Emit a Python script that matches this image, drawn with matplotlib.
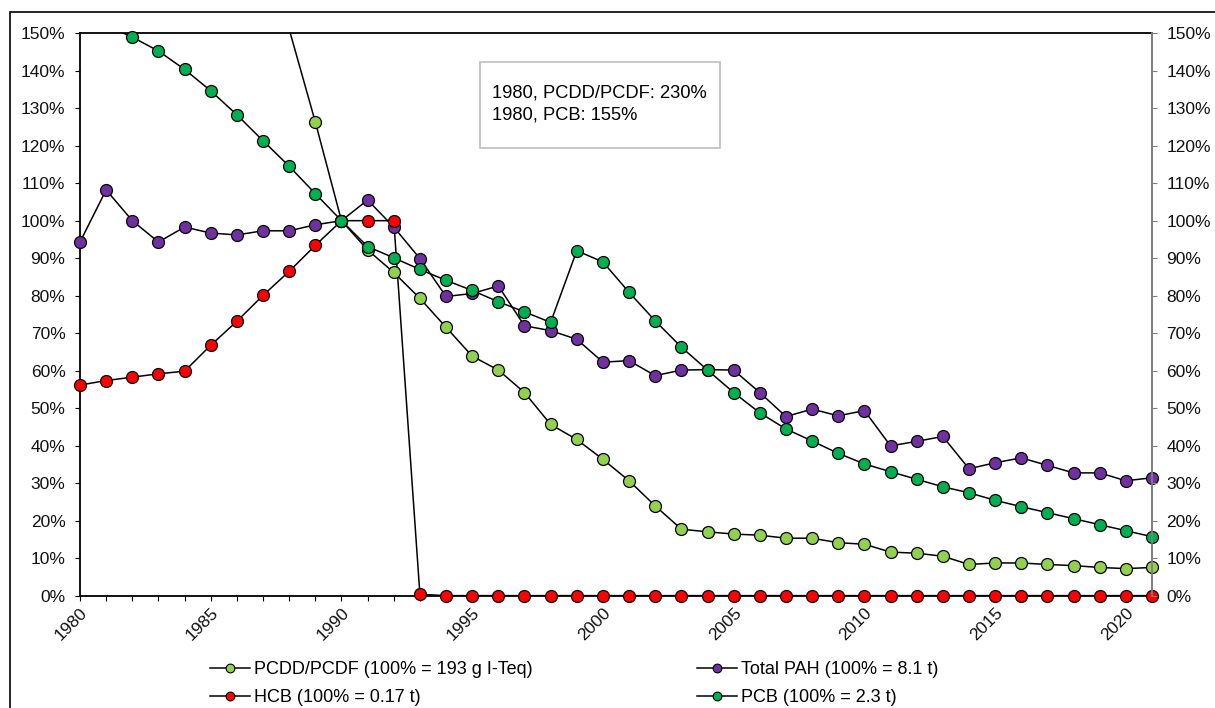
import numpy as np
import matplotlib
matplotlib.use("Agg")
import matplotlib.pyplot as plt
import matplotlib.ticker as ticker
from matplotlib.lines import Line2D
from matplotlib.patches import Rectangle

plt.rcParams["font.family"] = ["Liberation Sans", "DejaVu Sans"]

nan = np.nan
years = np.arange(1980, 2022)

# values in % of 1990 level
pcdd = [230, nan, nan, nan, nan, nan, nan, nan, 151, 126.3,
        100, 92.2, 86.2, 79.3, 71.6, 63.9, 60.2, 54.2, 45.7, 41.7,
        36.4, 30.7, 24.0, 17.8, 17.1, 16.5, 16.2, 15.4, 15.4, 14.2,
        13.8, 11.7, 11.4, 10.6, 8.4, 8.8, 8.8, 8.4, 8.1, 7.6,
        7.3, 7.6]
pah = [94.3, 108.2, 100, 94.3, 98.3, 96.7, 96.2, 97.3, 97.3, 98.9,
       100, 105.5, 98.3, 89.9, 79.8, 80.6, 82.6, 72.0, 70.7, 68.4,
       62.3, 62.7, 58.7, 60.2, 60.3, 60.2, 54.2, 47.8, 49.8, 48.0,
       49.4, 40.0, 41.2, 42.5, 33.9, 35.5, 36.8, 34.8, 32.8, 32.8,
       30.7, 31.5]
hcb = [56.2, 57.4, 58.3, 59.2, 59.9, 66.8, 73.2, 80.1, 86.5, 93.4,
       100, 100, 100, 0.45] + [0.1] * 28
pcb = [155, 152, 148.9, 145.2, 140.3, 134.6, 128.2, 121.3, 114.5, 107.2,
       100, 93.1, 90.1, 87.0, 84.1, 81.4, 78.4, 75.7, 72.9, 92.0,
       89.0, 80.9, 73.3, 66.3, 60.2, 54.2, 48.8, 44.5, 41.3, 38.0,
       35.2, 33.1, 31.1, 29.1, 27.5, 25.5, 23.8, 22.2, 20.6, 19.0,
       17.4, 15.8]

series = [
    ("PCDD/PCDF (100% = 193 g I-Teq)", pcdd, "#92D050"),
    ("Total PAH (100% = 8.1 t)", pah, "#7030A0"),
    ("HCB (100% = 0.17 t)", hcb, "#FF0000"),
    ("PCB (100% = 2.3 t)", pcb, "#00B050"),
]
note = "1980, PCDD/PCDF: 230%\n1980, PCB: 155%"

W, H = 1215, 708
fig = plt.figure(figsize=(W / 100, H / 100), dpi=100)
ax = fig.add_axes([80 / W, 1 - 596 / H, (1152 - 80) / W, (596 - 33) / H])

YMAX = 150
handles = {}
for label, vals, color in series:
    v = np.array(vals, dtype=float)
    ok = ~np.isnan(v)
    ax.plot(years[ok], v[ok], color="black", lw=1.1, zorder=2)
    inside = ok & (v <= YMAX)
    ax.plot(years[inside], v[inside], ls="none", marker="o", ms=8.6,
            mfc=color, mec="black", mew=0.9, clip_on=False, zorder=3)
    handles[label] = Line2D([], [], color="black", lw=1.1, marker="o", ms=6.3,
                            mfc=color, mec="black", mew=0.8)

ax.set_xlim(1980, 2021)
ax.set_ylim(0, YMAX)
ax.xaxis.set_major_locator(ticker.MultipleLocator(5))
ax.xaxis.set_minor_locator(ticker.MultipleLocator(1))
ax.yaxis.set_major_locator(ticker.MultipleLocator(10))
ax.yaxis.set_major_formatter(ticker.FuncFormatter(lambda v, p: f"{v:.0f}%"))
ax.tick_params(axis="both", which="both", direction="out", color="black",
               labelsize=12.5, labelcolor="#111111")
ax.tick_params(axis="y", length=3.5, width=0.8, pad=7)
ax.tick_params(axis="x", which="both", length=3.5, width=0.8, pad=3)
for lbl in ax.get_xticklabels():
    lbl.set_rotation(45)
    lbl.set_ha("right")
    lbl.set_rotation_mode("anchor")
for s in ["left", "bottom", "top"]:
    ax.spines[s].set_color("black")
    ax.spines[s].set_linewidth(1.3)
ax.spines["right"].set_color("#808080")
ax.spines["right"].set_linewidth(1.3)

ax2 = ax.twinx()
ax2.set_ylim(0, YMAX)
ax2.yaxis.set_major_locator(ticker.MultipleLocator(10))
ax2.yaxis.set_major_formatter(ticker.FuncFormatter(lambda v, p: f"{v:.0f}%"))
ax2.tick_params(axis="y", direction="out", length=3.5, width=0.8, color="#808080",
                labelsize=12.5, labelcolor="#111111", pad=7)
ax2.spines["right"].set_color("#808080")
ax2.spines["right"].set_linewidth(1.3)
for s in ["left", "bottom", "top"]:
    ax2.spines[s].set_visible(False)

# note box
ax.text((492 - 80) / (1152 - 80), 1 - (104 - 33) / (596 - 33), note,
        transform=ax.transAxes, fontsize=13.2, va="center", ha="left",
        linespacing=1.4, zorder=5)
ax.add_patch(Rectangle(((480 - 80) / 1072, 1 - (148 - 33) / 563),
                       240 / 1072, 86 / 563, transform=ax.transAxes,
                       fill=False, ec="#BFBFBF", lw=1.2, zorder=5))

# legend, two columns placed side by side
labels = [s[0] for s in series]
for col, x0 in [([labels[0], labels[2]], 210), ([labels[1], labels[3]], 697)]:
    fig.legend([handles[l] for l in col], col, loc="upper left",
               bbox_to_anchor=(x0 / W, 1 - 661 / H), frameon=False,
               fontsize=13, handlelength=2.2, handletextpad=0.25,
               labelspacing=0.6, borderaxespad=0, borderpad=0)

# outer chart border
fig.add_artist(Rectangle((10.5 / W, -0.05), 1.1, 1 - 11.5 / H + 0.05,
                         transform=fig.transFigure, fill=False,
                         ec="black", lw=1.2))

fig.savefig("out.png", dpi=100)
